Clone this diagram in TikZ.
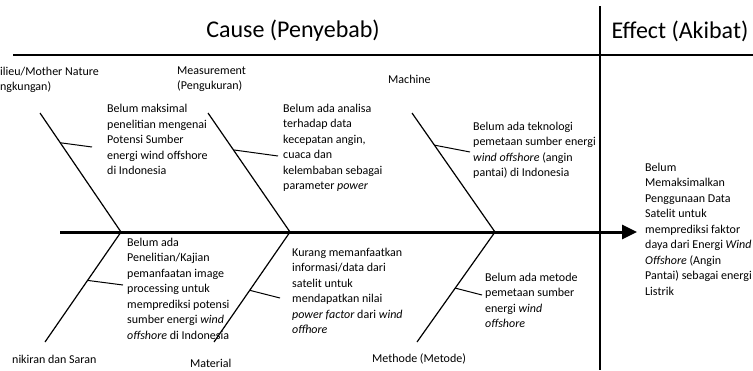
\documentclass[tikz,border=0pt]{standalone}
\usepackage{fontspec}
\setmainfont{Carlito}
\usetikzlibrary{arrows.meta, positioning, calc}
\tikzset{frame/.style={draw, line width=1.4pt},
         bone/.style={draw, line width=1.2pt},
         twig/.style={draw, line width=1pt},
         spine/.style={draw, line width=3pt, -{Triangle[length=15pt, width=14pt]}},
         heading/.style={inner sep=0pt, font=\fontsize{24}{28}\selectfont},
         label/.style={anchor=north west, align=left, inner sep=0pt,
                       font=\fontsize{12}{15.5}\selectfont}}

\begin{document}
\begin{tikzpicture}[x=1pt, y=-1pt]
    \useasboundingbox (0,0) rectangle (753,370);

    % headings and frame
    \node[heading] (cause) at (293,31) {Cause (Penyebab)};
    \node[heading] (effect) at (680,31) {Effect (Akibat)};
    \coordinate (hl) at (13,55);
    \coordinate (hr) at (753,55);
    \coordinate (vt) at (600,6);
    \coordinate (vb) at (600,370);
    \draw[frame] (hl) -- (hr);
    \draw[frame] (vt) -- (vb);

    % spine and joints
    \coordinate (tail) at (60,232);
    \coordinate (head) at (637,232);
    \coordinate (j1) at (121,232);
    \coordinate (j2) at (290,232);
    \coordinate (j3) at (495,232);
    \draw[spine] (tail) -- (head);

    % bones
    \coordinate (u1) at (40,113);
    \coordinate (u2) at (208,113);
    \coordinate (u3) at (412,113);
    \coordinate (l1) at (45,342);
    \coordinate (l2) at (214,342);
    \coordinate (l3) at (417,342);
    \draw[bone] (u1) -- coordinate[pos=0.25] (k1) (j1);
    \draw[bone] (u2) -- coordinate[pos=0.31] (k2) (j2);
    \draw[bone] (u3) -- coordinate[pos=0.27] (k3) (j3);
    \draw[bone] (j1) -- coordinate[pos=0.44] (k4) (l1);
    \draw[bone] (j2) -- coordinate[pos=0.53] (k5) (l2);
    \draw[bone] (j3) -- coordinate[pos=0.51] (k6) (l3);

    % categories
    \node[label] (milieu) at (0,66.5) {ilieu/Mother Nature\\ngkungan)};
    \node[label] (measure) at (177,66.5) {Measurement\\(Pengukuran)};
    \node[label] (machine) at (388,74.5) {Machine};
    \node[label] (mind) at (12,354.5) {nikiran dan Saran};
    \node[label] (material) at (190,358.5) {Material};
    \node[label] (method) at (372,353.5) {Methode (Metode)};

    % causes
    \node[label] (c1) at (107,104) {Belum maksimal\\penelitian mengenai\\Potensi Sumber\\energi wind offshore\\di Indonesia};
    \node[label] (c2) at (283,103.5) {Belum ada analisa\\terhadap data\\kecepatan angin,\\cuaca dan\\kelembaban sebagai\\parameter \textit{power}};
    \node[label] (c3) at (473,121.5) {Belum ada teknologi\\pemetaan sumber energi\\\textit{wind offshore} (angin\\pantai) di Indonesia};
    \node[label] (c4) at (127,237.5) {Belum ada\\Penelitian/Kajian\\pemanfaatan image\\processing untuk\\memprediksi potensi\\sumber energi \textit{wind}\\\textit{offshore} di Indonesia};
    \node[label] (c5) at (292,247.5) {Kurang memanfaatkan\\informasi/data dari\\satelit untuk\\mendapatkan nilai\\\textit{power factor} dari \textit{wind}\\\textit{offhore}};
    \node[label] (c6) at (485,272.5) {Belum ada metode\\pemetaan sumber\\energi \textit{wind}\\\textit{offshore}};
    \node[label] (result) at (645,162.5) {Belum\\Memaksimalkan\\Penggunaan Data\\Satelit untuk\\memprediksi faktor\\daya dari Energi \textit{Wind}\\\textit{Offshore} (Angin\\Pantai) sebagai energi\\Listrik};

    % twigs
    \coordinate (e1) at (92,147);
    \coordinate (e2) at (278,156);
    \coordinate (e3) at (470,152);
    \coordinate (e4) at (123,285);
    \coordinate (e5) at (280,298);
    \coordinate (e6) at (482,295);
    \draw[twig] (k1) -- (e1);
    \draw[twig] (k2) -- (e2);
    \draw[twig] (k3) -- (e3);
    \draw[twig] (k4) -- (e4);
    \draw[twig] (k5) -- (e5);
    \draw[twig] (k6) -- (e6);
\end{tikzpicture}
\end{document}
